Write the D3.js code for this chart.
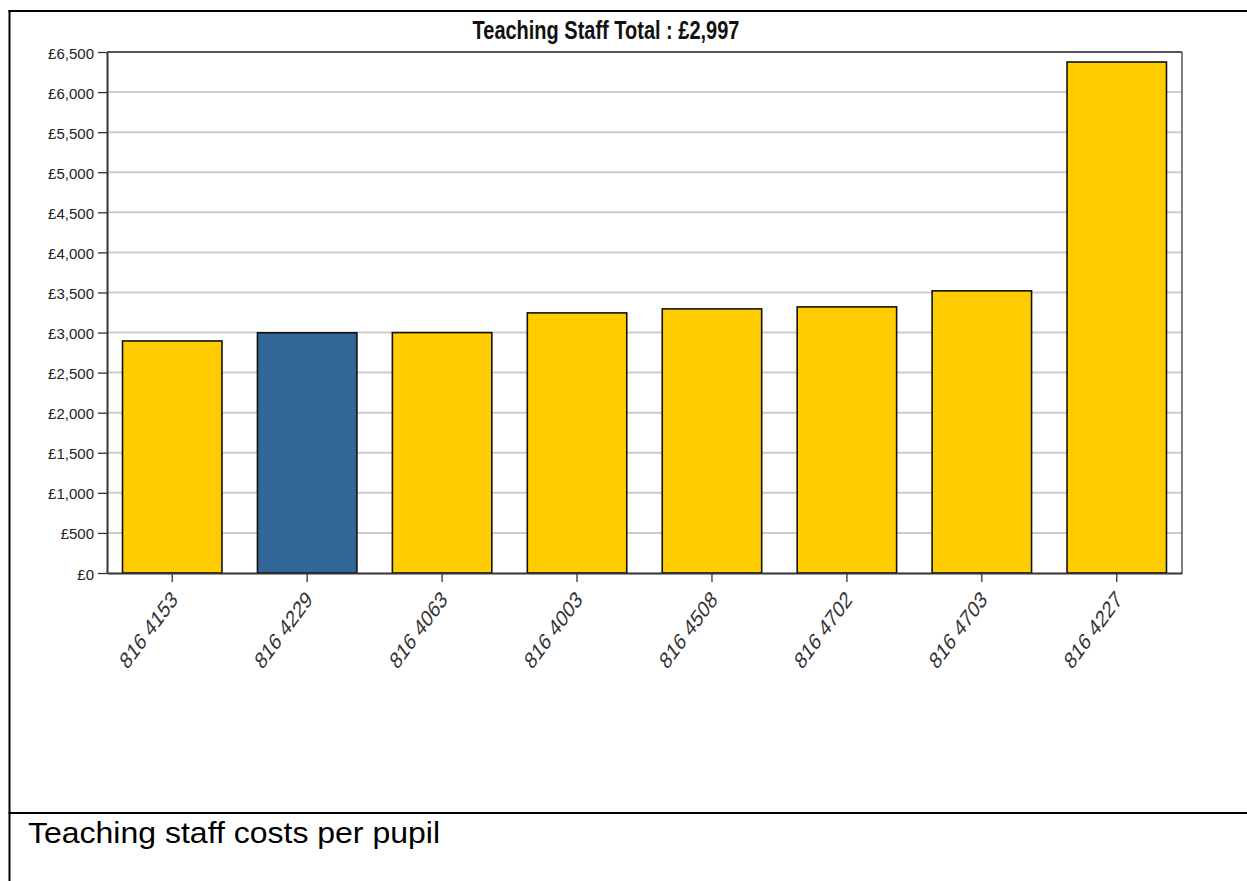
<!DOCTYPE html>
<html><head><meta charset="utf-8">
<script src="https://cdn.jsdelivr.net/npm/d3@7"></script>
<style>body{margin:0;background:#fff;} svg{display:block;}</style>
</head><body>
<script>
const categories = ["816 4153","816 4229","816 4063","816 4003","816 4508","816 4702","816 4703","816 4227"];
const values = [2895, 2997, 2999, 3245, 3295, 3320, 3520, 6375];
const highlight = ["816 4229"];
const yTicks = [0,500,1000,1500,2000,2500,3000,3500,4000,4500,5000,5500,6000,6500];
const titleText = "Teaching Staff Total : £2,997";
const captionText = "Teaching staff costs per pupil";

const W = 1247, H = 881;
const svg = d3.select("body").append("svg").attr("width", W).attr("height", H);
const sans = "'Liberation Sans',Arial,sans-serif";

// outer frame
svg.append("line").attr("x1",8.5).attr("x2",W).attr("y1",11).attr("y2",11).attr("stroke","#000").attr("stroke-width",2);
svg.append("line").attr("x1",9.5).attr("x2",9.5).attr("y1",10).attr("y2",H).attr("stroke","#000").attr("stroke-width",2);
svg.append("line").attr("x1",8.5).attr("x2",W).attr("y1",813).attr("y2",813).attr("stroke","#000").attr("stroke-width",2);

const L = 107, R = 1182, T = 52, B = 573;
const x = d3.scaleBand().domain(categories).range([L, R]).paddingInner(0.263).paddingOuter(0.115);
const y = d3.scaleLinear().domain([0, 6500]).range([B, T]);

// gridlines
svg.append("g").selectAll("line").data(yTicks.filter(d => d > 0 && d < 6500)).join("line")
  .attr("x1", L).attr("x2", R).attr("y1", d => y(d)).attr("y2", d => y(d))
  .attr("stroke", "#cccccc").attr("stroke-width", 2);

// plot border top & right
svg.append("line").attr("x1",L).attr("x2",R).attr("y1",T).attr("y2",T).attr("stroke","#555").attr("stroke-width",2);
svg.append("line").attr("x1",R).attr("x2",R).attr("y1",T).attr("y2",B).attr("stroke","#555").attr("stroke-width",1.5);

// bars
svg.append("g").selectAll("rect").data(categories).join("rect")
  .attr("x", d => x(d)).attr("width", x.bandwidth())
  .attr("y", (d,i) => y(values[i])).attr("height", (d,i) => B - y(values[i]))
  .attr("fill", d => highlight.includes(d) ? "#336699" : "#FFCC00")
  .attr("stroke", "#111").attr("stroke-width", 1.6);

// y axis
const yAxis = svg.append("g").attr("transform", `translate(${L},0)`)
  .call(d3.axisLeft(y).tickValues(yTicks).tickSize(9).tickSizeOuter(0).tickPadding(4).tickFormat(d => "£" + d3.format(",")(d)));
yAxis.select(".domain").attr("stroke","#333").attr("stroke-width",2);
yAxis.selectAll(".tick line").attr("stroke","#333").attr("stroke-width",1.3);
yAxis.selectAll("text").attr("font-family", sans).attr("font-size", 15).attr("fill","#222").attr("dy","0.4em");

// x axis
const xAxis = svg.append("g").attr("transform", `translate(0,${B})`)
  .call(d3.axisBottom(x).tickSize(9).tickSizeOuter(0));
xAxis.select(".domain").attr("stroke","#333").attr("stroke-width",2);
xAxis.selectAll(".tick line").attr("stroke","#333").attr("stroke-width",1.3);
xAxis.selectAll("text").attr("font-family", sans).attr("font-size", 17.5).attr("fill","#333")
  .attr("text-anchor","end").attr("dy","0.35em").attr("y",0).attr("x",0)
  .attr("transform","translate(2,22) scale(1,1.35) rotate(-45)");

// title
svg.append("text").attr("text-anchor","middle")
  .attr("transform","translate(606,39) scale(1,1.33)")
  .attr("font-family", sans).attr("font-weight","bold").attr("font-size", 20).attr("fill","#111").text(titleText);

// caption
svg.append("text").attr("x", 28).attr("y", 843)
  .attr("font-family", sans).attr("font-size", 30).attr("fill","#000")
  .attr("textLength", 412).attr("lengthAdjust","spacingAndGlyphs").text(captionText);
</script>
</body></html>
